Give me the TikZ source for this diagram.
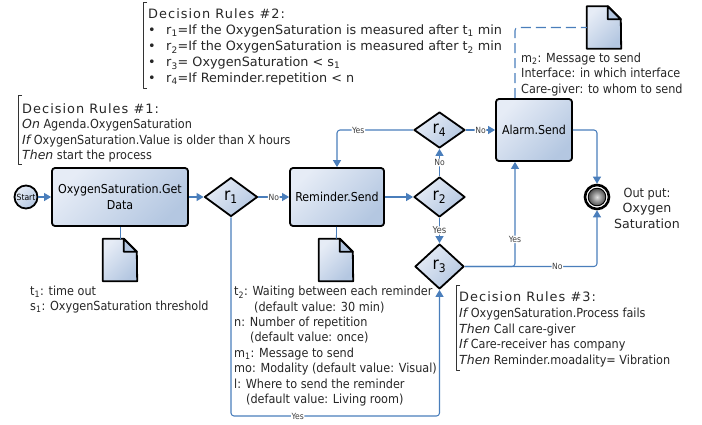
\documentclass[tikz,border=0pt]{standalone}
\usepackage{fontspec}
\setmainfont{DejaVu Sans Condensed}
\newfontfamily\widefont{DejaVu Sans}
\newfontfamily\titlefont[LetterSpace=8]{DejaVu Sans}
\usetikzlibrary{arrows.meta,shapes.geometric}
\definecolor{flowblue}{HTML}{4A7EBB}
\definecolor{lightfill}{HTML}{E6ECF6}
\definecolor{darkfill}{HTML}{B4C7E1}
\newcommand{\rulekey}[1]{{\widefont\itshape #1}}
\newcommand{\ruletitle}[1]{{\titlefont\fontsize{12.9}{15.8}\selectfont #1}}
\tikzset{
	shadefill/.style={top color=lightfill, bottom color=darkfill, shading angle=45},
	taskbox/.style={shadefill, draw=black, line width=1.8pt, rounded corners=3pt, minimum height=58pt, align=center, inner sep=1pt, font=\fontsize{12.3}{15.6}\selectfont},
	rulediamond/.style={shape=diamond, shadefill, draw=black, line width=1.8pt, inner sep=0pt, font=\fontsize{17}{17}\selectfont, aspect=1.3},
	flow/.style={draw=flowblue, line width=1.05pt, rounded corners=3pt},
	flowlabel/.style={fill=white, inner sep=.6pt, font=\fontsize{8.5}{9}\selectfont, text=black!75},
	notetext/.style={align=left, anchor=north west, inner sep=0pt, font=\fontsize{12.5}{15.4}\selectfont, text=black!85},
	rulebracket/.style={draw=black!80, line width=.7pt}
}
\begin{document}
\begin{tikzpicture}[x=1pt, y=-1pt, line join=round, >={Triangle[length=7pt,width=8pt]}]
	\useasboundingbox (0,0) rectangle (702,424);
	% flow nodes
	\node[circle, shadefill, draw=black, line width=1.8pt, minimum size=23pt, inner sep=0pt, font=\fontsize{8.5}{9}\selectfont] (start) at (26,197) {Start};
	\node[taskbox, minimum width=136pt, text width=130pt] (getdata) at (120,197) {OxygenSaturation.Get\\Data};
	\node[taskbox, minimum width=94pt] (remind) at (337,197) {Reminder.Send};
	\node[taskbox, minimum width=76pt, minimum height=62pt] (alarm) at (534,130) {Alarm.Send};
	\foreach \p/\x/\y/\w/\h/\t in {rone/231/197/53/39/1,rtwo/439.5/197/51/40/2,rfour/439.5/130/51/36/4,rthree/439.5/266.5/49/45/3}
	\node[rulediamond, minimum width=\w pt, minimum height=\h pt] (\p) at (\x,\y) {r\textsubscript{\t}};
	% end event
	\node[circle, draw=black, line width=2.6pt, minimum size=24pt, inner sep=0pt] (stop) at (597,197) {};
	\fill[inner color=black!12, outer color=black!70, draw=black, line width=.9pt] (stop.center) circle (8.8pt);
	% documents
	\foreach \p/\x/\y in {docone/120/260,doctwo/336/260,docthree/604/27.5}{
		\node[minimum width=34pt, minimum height=42pt, inner sep=0pt] (\p) at (\x,\y) {};
		\draw[shadefill, draw=black, line width=1.8pt] (\p.north west) -- ++(21,0) -- ++(13,13) -- (\p.south east) -- (\p.south west) -- cycle;
		\draw[fill=darkfill, draw=black, line width=1.8pt] (\p.north west) ++(21,0) -- ++(0,13) -- ++(13,0) -- cycle;
	}
	% connectors
	\draw[flow,->] (start) -- (getdata);
	\draw[flow,->] (getdata) -- (rone);
	\draw[flow,->] (rone) -- node[flowlabel]{No} (remind);
	\draw[flow,->] (remind) -- (rtwo);
	\draw[flow,->] (rtwo) -- node[flowlabel]{No} (rfour);
	\draw[flow,->] (rfour) -- node[flowlabel]{No} (alarm);
	\draw[flow,->] (rtwo) -- node[flowlabel, font=\fontsize{9.5}{10}\selectfont]{Yes} (rthree);
	\draw[flow,->] (rfour) -- node[flowlabel, pos=.72]{Yes} (337,130) -- (remind);
	\draw[flow,->] (rthree.east) -| node[flowlabel, pos=.63]{Yes} (alarm.south -| 515,0);
	\draw[flow,->] (rthree.east) -- node[flowlabel, pos=.7]{No} (597,266.5) -- (stop);
	\draw[flow,->] (alarm.east) -- (597,130) -- (stop);
	\draw[flow,->] (rone) -- (231,416) -- node[flowlabel, pos=.32]{Yes} (439.5,416) -- (rthree);
	\draw[flow, line width=.8pt] (getdata) -- (docone);
	\draw[flow, line width=.8pt] (remind) -- (doctwo);
	\draw[flow, dash pattern=on 10pt off 5pt] (alarm.north -| 515,0) -- (515,27.5) -- (docthree.west);
	% rule notes
	\draw[rulebracket] (147,2) -- (143,2) -- (143,88) -- (147,88);
	\draw[rulebracket] (22,95) -- (18,95) -- (18,164) -- (22,164);
	\draw[rulebracket] (460,285) -- (456,285) -- (456,370) -- (460,370);
	\node[notetext, font=\fontsize{12.8}{16}\selectfont\widefont] (rulestwo) at (148,8.5) {\ruletitle{Decision Rules \#2:}\\
		\textbullet\hspace{10.5pt}r\textsubscript{1}=If the OxygenSaturation is measured after t\textsubscript{1} min\\
		\textbullet\hspace{10.5pt}r\textsubscript{2}=If the OxygenSaturation is measured after t\textsubscript{2} min\\
		\textbullet\hspace{10.5pt}r\textsubscript{3}= OxygenSaturation < s\textsubscript{1}\\
		\textbullet\hspace{10.5pt}r\textsubscript{4}=If Reminder.repetition < n};
	\node[notetext] (rulesone) at (22,103) {\ruletitle{Decision Rules \#1:}\\[.5pt]
		\rulekey{On} Agenda.OxygenSaturation\\
		\rulekey{If} OxygenSaturation.Value is older than X hours\\
		\rulekey{Then} start the process};
	\node[notetext] (rulesthree) at (459,291) {\ruletitle{Decision Rules \#3:}\\[1.5pt]
		\rulekey{If} OxygenSaturation.Process fails\\
		\rulekey{Then} Call care-giver\\
		\rulekey{If} Care-receiver has company\\
		\rulekey{Then} Reminder.moadality= Vibration};
	% parameter notes
	\node[notetext] (noteone) at (30,285.5) {t\textsubscript{1}: time out\\s\textsubscript{1}: OxygenSaturation threshold};
	\node[notetext] (notetwo) at (234,286) {t\textsubscript{2}: Waiting between each reminder\\
		\hspace{20pt}(default value: 30 min)\\
		n: Number of repetition\\
		\hspace{16pt}(default value: once)\\
		m\textsubscript{1}: Message to send\\
		mo: Modality (default value: Visual)\\
		l: Where to send the reminder\\
		\hspace{12pt}(default value: Living room)};
	\node[notetext] (notethree) at (521,52.5) {m\textsubscript{2}: Message to send\\Interface: in which interface\\Care-giver: to whom to send};
	\node[notetext, align=center, anchor=north, font=\fontsize{12.6}{15.4}\selectfont] (output) at (647,188) {Out put:\\{\widefont Oxygen}\\{\widefont Saturation}};
\end{tikzpicture}
\end{document}
